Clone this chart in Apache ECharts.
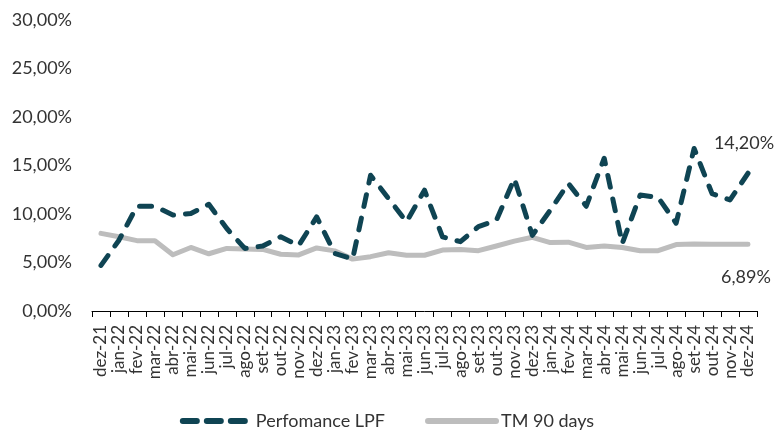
<!DOCTYPE html>
<html>
<head>
<meta charset="utf-8">
<script src="https://cdn.jsdelivr.net/npm/echarts@6/dist/echarts.min.js"></script>
<style>html,body{margin:0;padding:0;background:#fff;}#c{width:774px;height:439px;}</style>
</head>
<body>
<div id="c"></div>
<script>
const categories = ['dez-21','jan-22','fev-22','mar-22','abr-22','mai-22','jun-22','jul-22','ago-22','set-22','out-22','nov-22','dez-22','jan-23','fev-23','mar-23','abr-23','mai-23','jun-23','jul-23','ago-23','set-23','out-23','nov-23','dez-23','jan-24','fev-24','mar-24','abr-24','mai-24','jun-24','jul-24','ago-24','set-24','out-24','nov-24','dez-24'];
const lpfValues = [4.7,7.3,10.8,10.8,9.9,10.05,11.0,8.5,6.45,6.7,7.65,6.75,9.7,5.95,5.35,14.0,11.6,9.2,12.45,7.65,7.15,8.7,9.35,13.65,7.8,10.4,13.15,10.8,15.75,6.95,11.95,11.7,9.05,16.75,12.1,11.45,14.20];
const tmValues = [8.0,7.65,7.25,7.25,5.8,6.55,5.9,6.45,6.4,6.35,5.85,5.78,6.5,6.2,5.35,5.6,6.0,5.75,5.75,6.28,6.35,6.22,6.7,7.2,7.6,7.05,7.1,6.55,6.7,6.55,6.22,6.22,6.85,6.9,6.88,6.88,6.89];
const yTicks = [0,5,10,15,20,25,30];
const seriesNames = ['Perfomance LPF','TM 90 days'];

const fmt = v => v.toFixed(2).replace('.', ',') + '%';
const FONT = 'Lato';
const last = categories.length - 1;

function endMark(values, pos, offset) {
  return {
    symbol: 'circle',
    symbolSize: 0,
    silent: true,
    itemStyle: { color: 'rgba(0,0,0,0)' },
    label: { show: true, position: pos, distance: 5, offset: offset, formatter: p => fmt(p.value), color: '#333', fontSize: 18, fontFamily: FONT },
    data: [{ coord: [categories[last], values[last]], value: values[last] }]
  };
}

const chart = echarts.init(document.getElementById('c'), null, { renderer: 'canvas' });
chart.setOption({
  animation: false,
  textStyle: { fontFamily: FONT },
  grid: { left: 92, right: 17, top: 20, bottom: 128, containLabel: false },
  legend: {
    bottom: 4,
    left: 'center',
    itemGap: 40,
    itemWidth: 68,
    itemHeight: 8,
    textStyle: { fontSize: 18, color: '#333', fontFamily: FONT },
    data: [
      { name: seriesNames[0], itemStyle: { opacity: 0 }, lineStyle: { width: 6, type: [14, 10], cap: 'round' } },
      { name: seriesNames[1], itemStyle: { opacity: 0 }, lineStyle: { width: 6, cap: 'round' } }
    ]
  },
  xAxis: {
    type: 'category',
    data: categories,
    boundaryGap: true,
    axisLine: { show: true, lineStyle: { color: '#000', width: 1 } },
    axisTick: { show: true, length: 6, interval: 0, lineStyle: { color: '#000' } },
    axisLabel: { interval: 0, rotate: 90, fontSize: 17, color: '#333', margin: 14, fontFamily: FONT }
  },
  yAxis: {
    type: 'value',
    min: yTicks[0],
    max: yTicks[yTicks.length - 1],
    interval: 5,
    axisLine: { show: false },
    axisTick: { show: false },
    splitLine: { show: false },
    axisLabel: { formatter: v => fmt(v), fontSize: 18, color: '#333', margin: 20, fontFamily: FONT }
  },
  series: [
    {
      name: seriesNames[0], type: 'line', data: lpfValues, symbol: 'none', z: 3,
      itemStyle: { color: '#0f4453' },
      lineStyle: { color: '#0f4453', width: 5, type: [12, 12], cap: 'round', join: 'round' },
      markPoint: endMark(lpfValues, 'top', [-4, -16])
    },
    {
      name: seriesNames[1], type: 'line', data: tmValues, symbol: 'none', z: 2,
      itemStyle: { color: '#bdbdbd' },
      lineStyle: { color: '#bdbdbd', width: 5, cap: 'round', join: 'round' },
      markPoint: endMark(tmValues, 'bottom', [-2, 19])
    }
  ]
});
</script>
</body>
</html>
